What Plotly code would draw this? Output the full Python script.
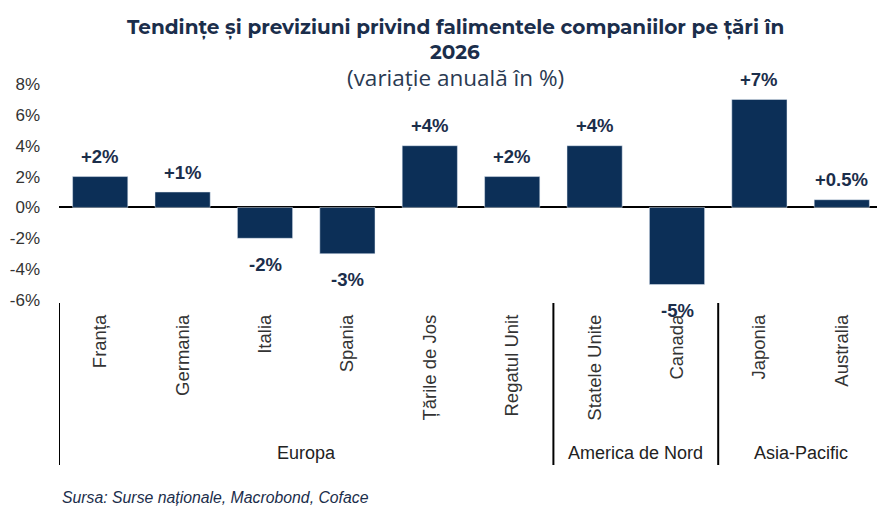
import plotly.graph_objects as go

# Données
tari = ["Franța", "Germania", "Italia", "Spania", "Țările de Jos",
        "Regatul Unit", "Statele Unite", "Canada", "Japonia", "Australia"]
variatie = [2, 1, -2, -3, 4, 2, 4, -5, 7, 0.5]
etichete = ["+2%", "+1%", "-2%", "-3%", "+4%", "+2%", "+4%", "-5%", "+7%", "+0.5%"]
regiuni = ["Europa", "America de Nord", "Asia-Pacific"]
nr_tari_regiune = [6, 2, 2]
y_ticks = [-6, -4, -2, 0, 2, 4, 6, 8]

NAVY = "#0c2f57"
TEXT = "#1b2e4b"
GREY = "#333333"

# la page ajoute une marge de 8 px autour de la figure
OFF = 8
W, H = 885 - OFF, 513 - OFF
ML, MR, MT, MB = 57 - OFF, 2, 84 - OFF, 213
PW, PH = W - ML - MR, H - MT - MB


def px_x(X):
    return (X - OFF - ML) / PW


def px_y(Y):
    return (H - MB - (Y - OFF)) / PH


fig = go.Figure()
fig.add_trace(go.Bar(
    x=list(range(len(tari))),
    y=variatie,
    marker_color=NAVY,
    width=0.67,
    hoverinfo="skip",
))

# étiquettes de valeur au-dessus / en dessous des barres
for i, (v, lab) in enumerate(zip(variatie, etichete)):
    fig.add_annotation(
        x=i, y=v, text=f"<b>{lab}</b>", showarrow=False,
        yshift=20 if v > 0 else -26, yanchor="middle",
        font=dict(family="Liberation Sans, Arial", size=18.5, color=TEXT),
    )

# séparateurs et noms des régions
start = -0.5
sep_y0, sep_y1 = px_y(303), px_y(465)
fig.add_shape(type="line", xref="x", yref="paper", x0=start, x1=start,
              y0=sep_y0, y1=sep_y1, line=dict(color="black", width=2))
for reg, n in zip(regiuni, nr_tari_regiune):
    end = start + n
    fig.add_shape(type="line", xref="x", yref="paper", x0=end, x1=end,
                  y0=sep_y0, y1=sep_y1, line=dict(color="black", width=2))
    fig.add_annotation(
        x=(start + end) / 2, y=px_y(453), xref="x", yref="paper", text=reg,
        showarrow=False, yanchor="middle",
        font=dict(family="Liberation Sans, Arial", size=18, color="#222222"),
    )
    start = end

fig.update_layout(
    width=W, height=H,
    margin=dict(l=ML, r=MR, t=MT, b=MB),
    paper_bgcolor="white", plot_bgcolor="white",
    showlegend=False,
    xaxis=dict(
        tickmode="array", tickvals=list(range(len(tari))), ticktext=tari,
        tickangle=-90, range=[-0.5, len(tari) - 0.5],
        showgrid=False, zeroline=False, showline=False, ticks="",
        ticklabelstandoff=10,
        tickfont=dict(family="Liberation Sans, Arial", size=18.5, color=GREY),
    ),
    yaxis=dict(
        range=[-6, 8], tickmode="array", tickvals=y_ticks,
        ticktext=[f"{t}%" for t in y_ticks],
        showgrid=False, zeroline=True, zerolinecolor="black", zerolinewidth=2,
        showline=False, ticks="", ticklabelstandoff=18,
        tickfont=dict(family="Liberation Sans, Arial", size=17, color=GREY),
    ),
)

# titre et sous-titre
titlu = ["<b>Tendințe și previziuni privind falimentele companiilor pe țări în</b>",
         "<b>2026</b>"]
for txt, ypix, fnt in [
    (titlu[0], 28, dict(family="Montserrat, Open Sans, Inter", size=20, color=TEXT)),
    (titlu[1], 52, dict(family="Montserrat, Open Sans, Inter", size=20, color=TEXT)),
    ("(variație anuală în %)", 77, dict(family="Open Sans", size=22.5, color="#2a3a52")),
]:
    fig.add_annotation(
        x=px_x(454), y=px_y(ypix), xref="paper", yref="paper", text=txt,
        showarrow=False, yanchor="middle", xanchor="center", font=fnt,
    )

fig.add_annotation(
    x=px_x(58), y=px_y(497), xref="paper", yref="paper",
    text="<i>Sursa: Surse naționale, Macrobond, Coface</i>",
    showarrow=False, xanchor="left", yanchor="middle",
    font=dict(family="Liberation Sans, Arial", size=15.8, color=TEXT),
)

fig.write_html("out.html")
